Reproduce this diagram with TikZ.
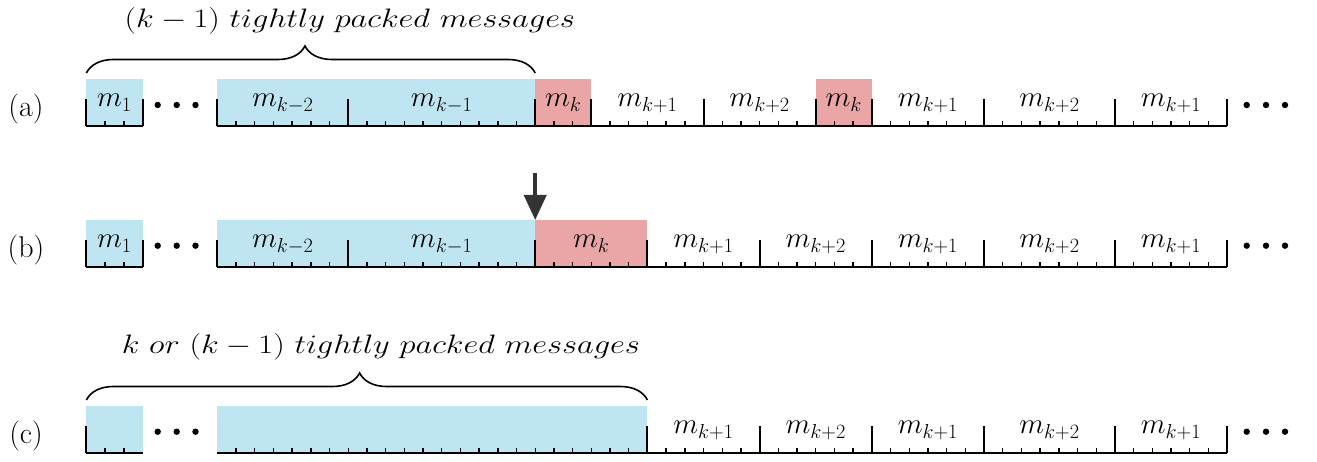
\RequirePackage{fix-cm}
\documentclass[tikz,border=0pt]{standalone}
\usetikzlibrary{decorations.pathreplacing,arrows.meta}
\definecolor{boxblue}{RGB}{191,228,242}
\definecolor{boxred}{RGB}{234,166,166}
\definecolor{arrowgray}{RGB}{51,51,51}
\def\X{217.3}
\def\U{18.7}
\newcommand\rowruler[2]{%
  \draw[baseln] ({\X-7*\U},#1) -- ({\X-4*\U},#1);
  \draw[baseln] (\X,#1) -- ({\X+54*\U},#1);
  \foreach \i in {-6,-5} \draw[minortick] ({\X+\i*\U},#1) -- ++(0,-4.5);
  \foreach \i in {1,...,53} \draw[minortick] ({\X+\i*\U},#1) -- ++(0,-4.5);
  \foreach \i in {#2} \draw[majortick] ({\X+\i*\U},#1) -- ++(0,-27);
}
\newcommand\widetext[1]{\scalebox{1.12}[0.92]{#1}}
\begin{document}
\begin{tikzpicture}[x=1pt,y=-1pt,
  lbl/.style={font=\fontsize{29}{34}\selectfont, anchor=base, inner sep=0pt},
  rowlbl/.style={font=\fontsize{30}{36}\selectfont, anchor=base, inner sep=0pt},
  bracetxt/.style={font=\fontsize{29}{34}\selectfont, anchor=base, inner sep=0pt},
  baseln/.style={line width=2.2pt},
  majortick/.style={line width=2pt},
  minortick/.style={line width=1.4pt},
  bluebox/.style={fill=boxblue, draw=none, inner sep=0pt, outer sep=0pt, anchor=south west, minimum height=46.7pt},
  redbox/.style={fill=boxred, draw=none, inner sep=0pt, outer sep=0pt, anchor=south west, minimum height=46.7pt},
  bracepath/.style={decorate, decoration={brace, amplitude=27pt, aspect=0.487}, line width=1.6pt},
  pointer/.style={-{Triangle[width=22pt,length=25pt]}, line width=4pt, draw=arrowgray, fill=arrowgray}
]
\useasboundingbox (0,0) rectangle (1317,462);

% ---------- row (a) ----------
\node[bluebox, minimum width=3*18.7pt] (a1box) at ({\X-7*\U},126) {};
\node[bluebox, minimum width=17*18.7pt] (a2box) at (\X,126) {};
\node[redbox, minimum width=3*18.7pt] (a3box) at ({\X+17*\U},126) {};
\node[redbox, minimum width=3*18.7pt] (a4box) at ({\X+32*\U},126) {};
\rowruler{126}{-7,-4,0,7,17,20,26,32,35,41,48,54}
\node[lbl] (am1) at ({\X-5.5*\U},107) {$m_1$};
\node[lbl] (am2) at ({\X+3.5*\U},107) {$m_{k-2}$};
\node[lbl] (am3) at ({\X+12*\U},107) {$m_{k-1}$};
\node[lbl] (am4) at ({\X+18.5*\U},107) {$m_k$};
\node[lbl] (am5) at ({\X+23*\U},107) {$m_{k+1}$};
\node[lbl] (am6) at ({\X+29*\U},107) {$m_{k+2}$};
\node[lbl] (am7) at ({\X+33.5*\U},107) {$m_k$};
\node[lbl] (am8) at ({\X+38*\U},107) {$m_{k+1}$};
\node[lbl] (am9) at ({\X+44.5*\U},107) {$m_{k+2}$};
\node[lbl] (am10) at ({\X+51*\U},107) {$m_{k+1}$};
\foreach \x in {157.7,176.7,195.5,1246.7,1266,1285} \fill (\x,105) circle (3.2pt);
\node[rowlbl] (la) at (26,117) {(a)};
\draw[bracepath] (86.4,73) -- (535.2,73);
\node[bracetxt] (ta) at (350,28) {\widetext{$(k-1)\ tightly\ packed\ messages$}};

% ---------- row (b) ----------
\node[bluebox, minimum width=3*18.7pt] (b1box) at ({\X-7*\U},266.7) {};
\node[bluebox, minimum width=17*18.7pt] (b2box) at (\X,266.7) {};
\node[redbox, minimum width=6*18.7pt] (b3box) at ({\X+17*\U},266.7) {};
\rowruler{266.7}{-7,-4,0,7,17,23,29,35,41,48,54}
\node[lbl] (bm1) at ({\X-5.5*\U},247.7) {$m_1$};
\node[lbl] (bm2) at ({\X+3.5*\U},247.7) {$m_{k-2}$};
\node[lbl] (bm3) at ({\X+12*\U},247.7) {$m_{k-1}$};
\node[lbl] (bm4) at ({\X+20*\U},247.7) {$m_k$};
\node[lbl] (bm5) at ({\X+26*\U},247.7) {$m_{k+1}$};
\node[lbl] (bm6) at ({\X+32*\U},247.7) {$m_{k+2}$};
\node[lbl] (bm7) at ({\X+38*\U},247.7) {$m_{k+1}$};
\node[lbl] (bm8) at ({\X+44.5*\U},247.7) {$m_{k+2}$};
\node[lbl] (bm9) at ({\X+51*\U},247.7) {$m_{k+1}$};
\foreach \x in {157.7,176.7,195.5,1246.7,1266,1285} \fill (\x,245.7) circle (3.2pt);
\node[rowlbl] (lb) at (26,257.7) {(b)};
\coordinate (arrtop) at ({\X+17*\U},173);
\draw[pointer] (arrtop) -- (b3box.north west);

% ---------- row (c) ----------
\node[bluebox, minimum width=3*18.7pt] (c1box) at ({\X-7*\U},452.7) {};
\node[bluebox, minimum width=23*18.7pt] (c2box) at (\X,452.7) {};
\rowruler{452.7}{-7,23,29,35,41,48,54}
\node[lbl] (cm1) at ({\X+26*\U},433.7) {$m_{k+1}$};
\node[lbl] (cm2) at ({\X+32*\U},433.7) {$m_{k+2}$};
\node[lbl] (cm3) at ({\X+38*\U},433.7) {$m_{k+1}$};
\node[lbl] (cm4) at ({\X+44.5*\U},433.7) {$m_{k+2}$};
\node[lbl] (cm5) at ({\X+51*\U},433.7) {$m_{k+1}$};
\foreach \x in {157.7,176.7,195.5,1246.7,1266,1285} \fill (\x,431.7) circle (3.2pt);
\node[rowlbl] (lc) at (26,443.7) {(c)};
\draw[bracepath] (86.4,400) -- (647.4,400);
\node[bracetxt] (tc) at (381,353) {\widetext{$k\ or\ (k-1)\ tightly\ packed\ messages$}};
\end{tikzpicture}
\end{document}
